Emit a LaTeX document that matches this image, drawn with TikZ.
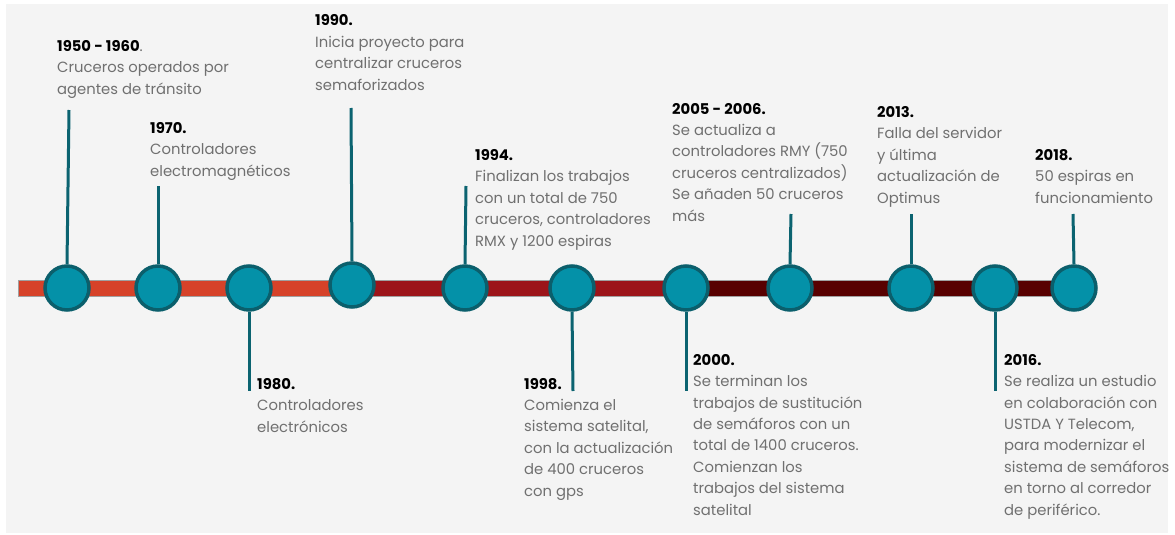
\documentclass[tikz,border=0pt]{standalone}
\usepackage{fontspec}
\setmainfont{Poppins}
\definecolor{bgc}{HTML}{F4F4F4}
\definecolor{barA}{HTML}{D64229}
\definecolor{barB}{HTML}{9C1419}
\definecolor{barC}{HTML}{580000}
\definecolor{dotfill}{HTML}{0491A8}
\definecolor{dotedge}{HTML}{0B5F6C}
\definecolor{stemc}{HTML}{0B6370}
\definecolor{txtgray}{HTML}{707070}
\definecolor{barline}{HTML}{A0A0A0}
\tikzset{
  dot/.style={circle, draw=dotedge, fill=dotfill, line width=3.5pt, minimum size=44pt, inner sep=0pt},
  stem/.style={draw=stemc, line width=3pt},
  event/.style={anchor=base west, align=left, inner sep=0pt, text=txtgray,
    font=\fontsize{14.8}{21.4}\selectfont},
}
\newcommand{\yr}[1]{{\color{black}\bfseries #1}}
\begin{document}
\begin{tikzpicture}[x=1pt,y=-1pt]
\useasboundingbox (0,0) rectangle (1175,535);
\fill[white] (0,0) rectangle (1175,535);
\fill[bgc] (6,4) rectangle (1168,533);
% bar
\fill[barA] (18,280) rectangle (352,296);
\fill[barB] (352,280) rectangle (686,296);
\fill[barC] (686,280) rectangle (1074,296);
\draw[barline, line width=0.7pt] (1074,280) -- (18,280) -- (18,296) -- (1074,296);
% circles
\node[dot] (c1) at (67,288) {};
\node[dot] (c2) at (158,288) {};
\node[dot] (c3) at (249,288) {};
\node[dot] (c4) at (352,285) {};
\node[dot] (c5) at (465,288) {};
\node[dot] (c6) at (572,288) {};
\node[dot] (c7) at (686,288) {};
\node[dot] (c8) at (790,288) {};
\node[dot] (c9) at (911,288) {};
\node[dot] (c10) at (995,288) {};
\node[dot] (c11) at (1074,288) {};
% stem ends
\coordinate (s1) at (69,110);
\coordinate (s2) at (158,186);
\coordinate (s3) at (249,391);
\coordinate (s4) at (351,108);
\coordinate (s5) at (466,186);
\coordinate (s6) at (573,391);
\coordinate (s7) at (686,391);
\coordinate (s8) at (791,214);
\coordinate (s9) at (911,214);
\coordinate (s10) at (995,391);
\coordinate (s11) at (1073,214);
\draw[stem] (c1.north) -- (s1);
\draw[stem] (c2.north) -- (s2);
\draw[stem] (c3.south) -- (s3);
\draw[stem] (c4.north) -- (s4);
\draw[stem] (c5.north) -- (s5);
\draw[stem] (c6.south) -- (s6);
\draw[stem] (c7.south) -- (s7);
\draw[stem] (c8.north) -- (s8);
\draw[stem] (c9.north) -- (s9);
\draw[stem] (c10.south) -- (s10);
\draw[stem] (c11.north) -- (s11);
% texts (anchored at the baseline of their last line)
\node[event] (t1) at (57,94) {\yr{1950 - 1960}.\\Cruceros operados por\\agentes de tránsito};
\node[event] (t2) at (150,176) {\yr{1970.}\\Controladores\\electromagnéticos};
\node[event] (t3) at (257,432) {\yr{1980.}\\Controladores\\electrónicos};
\node[event] (t4) at (315,90) {\yr{1990.}\\Inicia proyecto para\\centralizar cruceros\\semaforizados};
\node[event] (t5) at (475,246) {\yr{1994.}\\Finalizan los trabajos\\con un total de 750\\cruceros, controladores\\RMX y 1200 espiras};
\node[event] (t6) at (524,496) {\yr{1998.}\\Comienza el\\sistema satelital,\\con la actualización\\de 400 cruceros\\con gps};
\node[event] (t7) at (693,515) {\yr{2000.}\\Se terminan los\\trabajos de sustitución\\de semáforos con un\\total de 1400 cruceros.\\Comienzan los\\trabajos del sistema\\satelital};
\node[event] (t8) at (672,221) {\yr{2005 - 2006.}\\Se actualiza a\\controladores RMY (750\\cruceros centralizados)\\Se añaden 50 cruceros\\más};
\node[event] (t9) at (877,203) {\yr{2013.}\\Falla del servidor\\y última\\actualización de\\Optimus};
\node[event] (t10) at (1004,515) {\yr{2016.}\\Se realiza un estudio\\en colaboración con\\USTDA Y Telecom,\\para modernizar el\\sistema de semáforos\\en torno al corredor\\de periférico.};
\node[event] (t11) at (1035,203) {\yr{2018.}\\50 espiras en\\funcionamiento};
\end{tikzpicture}
\end{document}
